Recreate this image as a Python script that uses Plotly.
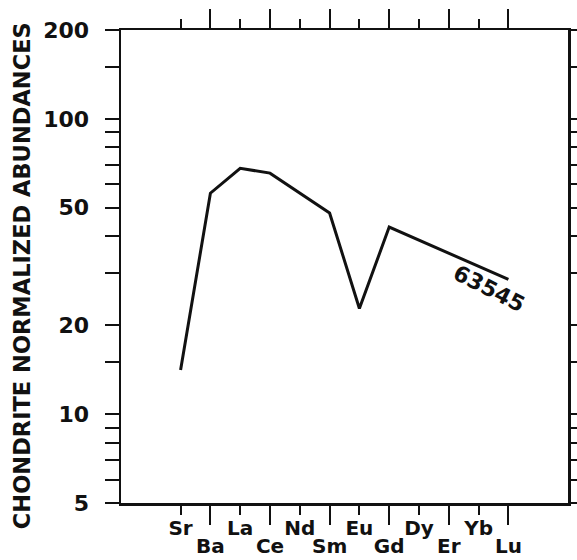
import math
import plotly.graph_objects as go

# ---- data ----
elements = ["Sr", "Ba", "La", "Ce", "Nd", "Sm", "Eu", "Gd", "Dy", "Er", "Yb", "Lu"]
abundance = [14.1, 56.0, 68.0, 65.5, None, 48.0, 22.8, 43.0, None, None, None, 28.6]
sample_label = "63545"

y_major = [5, 10, 20, 50, 100, 200]
y_major_text = ["5", "10", "20", "50", "100", "200"]
y_minor = [6, 7, 8, 9, 15, 30, 40, 60, 70, 80, 90, 150]

y_title = "CHONDRITE NORMALIZED ABUNDANCES"

idx = list(range(len(elements)))
upper_idx = [i for i in idx if i % 2 == 0]
lower_idx = [i for i in idx if i % 2 == 1]

FONT = "DejaVu Sans"
BLACK = "#111111"

fig = go.Figure()
fig.add_trace(go.Scatter(
    x=idx, y=abundance, mode="lines", connectgaps=True,
    line=dict(color=BLACK, width=3), showlegend=False, hoverinfo="skip",
))
# invisible helper trace so the overlaid label axis is drawn
fig.add_trace(go.Scatter(
    x=idx, y=abundance, mode="lines", xaxis="x2", connectgaps=True,
    line=dict(color="rgba(0,0,0,0)", width=0), showlegend=False, hoverinfo="skip",
))

xrange = [-2, len(elements) + 1]

fig.update_layout(
    width=577, height=560,
    margin=dict(l=121, r=9, t=30, b=57),
    paper_bgcolor="white", plot_bgcolor="white",
    font=dict(family=FONT, color=BLACK, size=20, weight="bold"),
    xaxis=dict(
        type="linear", range=xrange, showgrid=False, zeroline=False,
        automargin=False,
        showline=True, linecolor=BLACK, linewidth=2.5, mirror="allticks",
        tickmode="array", tickvals=lower_idx,
        ticktext=[elements[i] for i in lower_idx],
        ticks="outside", ticklen=19, tickwidth=2, tickcolor=BLACK,
        ticklabelstandoff=4,
        tickfont=dict(family=FONT, size=20, color=BLACK, weight="bold"),
        minor=dict(tickmode="array", tickvals=upper_idx, ticks="outside",
                   ticklen=9, tickwidth=2, tickcolor=BLACK, showgrid=False),
    ),
    xaxis2=dict(
        type="linear", range=xrange, overlaying="x", anchor="y", side="bottom",
        showgrid=False, zeroline=False, showline=False, automargin=False,
        tickmode="array", tickvals=upper_idx,
        ticktext=[elements[i] for i in upper_idx],
        ticks="outside", ticklen=9, tickwidth=2, tickcolor=BLACK,
        ticklabelstandoff=-2,
        tickfont=dict(family=FONT, size=20, color=BLACK, weight="bold"),
    ),
    yaxis=dict(
        type="log", range=[math.log10(5), math.log10(200)],
        showgrid=False, zeroline=False, automargin=False,
        showline=True, linecolor=BLACK, linewidth=2.5, mirror="allticks",
        tickmode="array", tickvals=y_major, ticktext=y_major_text,
        ticks="outside", ticklen=14, tickwidth=2, tickcolor=BLACK,
        ticklabelstandoff=11,
        tickfont=dict(family=FONT, size=22, color=BLACK, weight="bold"),
        minor=dict(tickmode="array", tickvals=y_minor, ticks="outside",
                   ticklen=7, tickwidth=2, tickcolor=BLACK, showgrid=False),
    ),
)

# y-axis title
fig.add_annotation(
    xref="paper", yref="paper", x=-0.221, y=0.48,
    text=y_title, textangle=-90, showarrow=False,
    xanchor="center", yanchor="middle",
    font=dict(family=FONT, size=22.5, color=BLACK, weight="bold"),
)

# sample label placed near the end of the line
lu_i = elements.index("Lu")
fig.add_annotation(
    xref="x", yref="y", x=lu_i - 0.65, y=math.log10(abundance[lu_i]) - 0.03,
    text=sample_label, textangle=27, showarrow=False,
    xanchor="center", yanchor="middle",
    font=dict(family=FONT, size=22, color=BLACK, weight="bold"),
)

fig.write_html(
    "out.html",
    config={"displayModeBar": False, "staticPlot": True},
    post_script="document.body.style.margin='0';document.body.style.overflow='hidden';",
)
